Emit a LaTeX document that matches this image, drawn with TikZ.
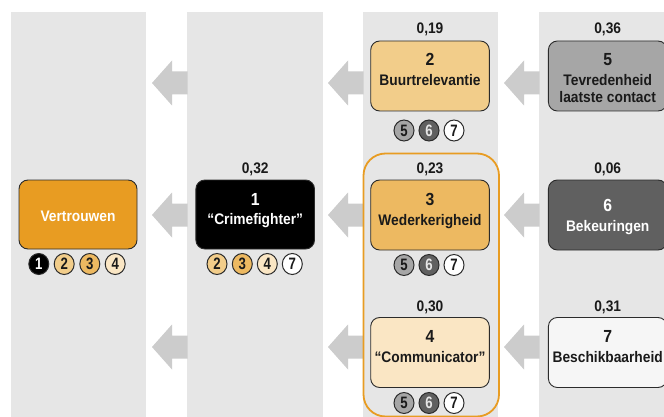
\documentclass[tikz,border=0pt]{standalone}
\usepackage{fontspec}
\setmainfont{Liberation Sans}
\newfontfamily\condA{Liberation Sans}[FakeStretch=0.9]
\newfontfamily\condB{Liberation Sans}[FakeStretch=0.8]
\usetikzlibrary{shapes.geometric}
\definecolor{colbg}{HTML}{E6E6E6}
\definecolor{arrowgray}{HTML}{CCCCCC}
\definecolor{oranje}{HTML}{E89C22}
\definecolor{cA}{HTML}{F2CD8A}
\definecolor{cB}{HTML}{EDB961}
\definecolor{cC}{HTML}{FAE6C4}
\definecolor{cD}{HTML}{A6A6A6}
\definecolor{cE}{HTML}{606060}
\definecolor{cF}{HTML}{F6F6F6}
\definecolor{lijn}{HTML}{2B2B2B}
\definecolor{tekst}{HTML}{1A1A1A}
\newcommand{\pijl}[2]{%
  \fill[arrowgray] ({#1+0.5},{#2-11.5}) -- ({#1-15},{#2-11.5}) -- ({#1-15},{#2-22.5})
    -- ({#1-35},{#2}) -- ({#1-15},{#2+22.5}) -- ({#1-15},{#2+11.5}) -- ({#1+0.5},{#2+11.5}) -- cycle;}
\tikzset{
  box/.style={draw=lijn, line width=0.9pt, rounded corners=9pt, minimum width=118.6pt,
    minimum height=70pt, inner sep=0pt},
  numtxt/.style={font=\condA\bfseries\fontsize{17.5}{17.5}\selectfont, anchor=base, inner sep=0pt, text=tekst},
  nametxt/.style={font=\condA\bfseries\fontsize{15.3}{16}\selectfont, anchor=base, inner sep=0pt, text=tekst},
  weight/.style={font=\condA\bfseries\fontsize{15.3}{15}\selectfont, anchor=base, inner sep=0pt, text=tekst},
  dot/.style={ellipse, draw=lijn, line width=1pt, minimum width=20pt, minimum height=21pt,
    inner sep=0pt, font=\condB\bfseries\fontsize{16.5}{16.5}\selectfont, text=tekst},
}
\begin{document}
\begin{tikzpicture}[x=1pt,y=-1pt]
\useasboundingbox (0,0) rectangle (664,417);
\fill[white] (0,0) rectangle (664,417);
% columns
\fill[colbg] (11,12) rectangle (146,418);
\fill[colbg] (187,12) rectangle (323,418);
\fill[colbg] (363,12) rectangle (498,418);
\fill[colbg] (539,12) rectangle (668,418);
% arrows
\pijl{187}{83} \pijl{363}{83} \pijl{539}{83}
\pijl{187}{215} \pijl{363}{215} \pijl{539}{215}
\pijl{187}{347} \pijl{363}{347} \pijl{539}{347}
% orange group outline
\draw[oranje, line width=1.8pt, rounded corners=22pt] (363.5,153.5) rectangle (499,416.5);
% boxes
\node[box, fill=oranje, minimum width=118pt, minimum height=69pt] (V) at (78,214.5) {};
\node[box, fill=black, minimum height=69pt] (B1) at (255.2,214.5) {};
\node[box, fill=cA] (B2) at (430,76) {};
\node[box, fill=cB] (B3) at (430,215) {};
\node[box, fill=cC] (B4) at (430,352.5) {};
\node[box, fill=cD] (B5) at (607.7,76) {};
\node[box, fill=cE] (B6) at (607.7,215) {};
\node[box, fill=cF] (B7) at (607.7,352.5) {};
% box texts
\node[nametxt, text=white] (Vt) at (78,221.7) {Vertrouwen};
\node[numtxt, text=white] (B1n) at (255.2,205) {1};
\node[nametxt, text=white] (B1t) at (255.2,224.5) {“Crimefighter”};
\node[numtxt] (B2n) at (430,66) {2};
\node[nametxt] (B2t) at (430,86) {Buurtrelevantie};
\node[numtxt] (B3n) at (430,205) {3};
\node[nametxt] (B3t) at (430,225) {Wederkerigheid};
\node[numtxt] (B4n) at (430,342.8) {4};
\node[nametxt] (B4t) at (430,362.8) {“Communicator”};
\node[numtxt] (B5n) at (607.7,66) {5};
\node[nametxt] (B5t) at (607.7,86) {Tevredenheid};
\node[nametxt] (B5u) at (607.7,102.7) {laatste contact};
\node[numtxt, text=white] (B6n) at (607.7,211.5) {6};
\node[nametxt, text=white] (B6t) at (607.7,231.5) {Bekeuringen};
\node[numtxt] (B7n) at (607.7,342.8) {7};
\node[nametxt] (B7t) at (607.7,362.8) {Beschikbaarheid};
% weights
\node[weight] (w1) at (255.2,174) {0,32};
\node[weight] (w2) at (430,33.5) {0,19};
\node[weight] (w3) at (430,174) {0,23};
\node[weight] (w4) at (430,311.7) {0,30};
\node[weight] (w5) at (607.7,33.5) {0,36};
\node[weight] (w6) at (607.7,174) {0,06};
\node[weight] (w7) at (607.7,311.7) {0,31};
% circles under Vertrouwen
\node[dot, fill=black, text=white] (v1) at (38.8,264) {1};
\node[dot, fill=cA] (v2) at (64.2,264) {2};
\node[dot, fill=cB] (v3) at (89.8,264) {3};
\node[dot, fill=cC] (v4) at (115.2,264) {4};
% circles under Crimefighter
\node[dot, fill=cA] (c2) at (217,264) {2};
\node[dot, fill=cB] (c3) at (242.3,264) {3};
\node[dot, fill=cC] (c4) at (267.3,264) {4};
\node[dot, fill=white] (c7) at (292.3,264) {7};
% circles under box 2
\node[dot, fill=cD] (d5) at (404,130.5) {5};
\node[dot, fill=cE, text=colbg] (d6) at (429,130.5) {6};
\node[dot, fill=white] (d7) at (454,130.5) {7};
% circles under box 3
\node[dot, fill=cD] (e5) at (404,265) {5};
\node[dot, fill=cE, text=colbg] (e6) at (429,265) {6};
\node[dot, fill=white] (e7) at (454,265) {7};
% circles under box 4
\node[dot, fill=cD] (f5) at (404,403) {5};
\node[dot, fill=cE, text=colbg] (f6) at (429,403) {6};
\node[dot, fill=white] (f7) at (454,403) {7};
\end{tikzpicture}
\end{document}
